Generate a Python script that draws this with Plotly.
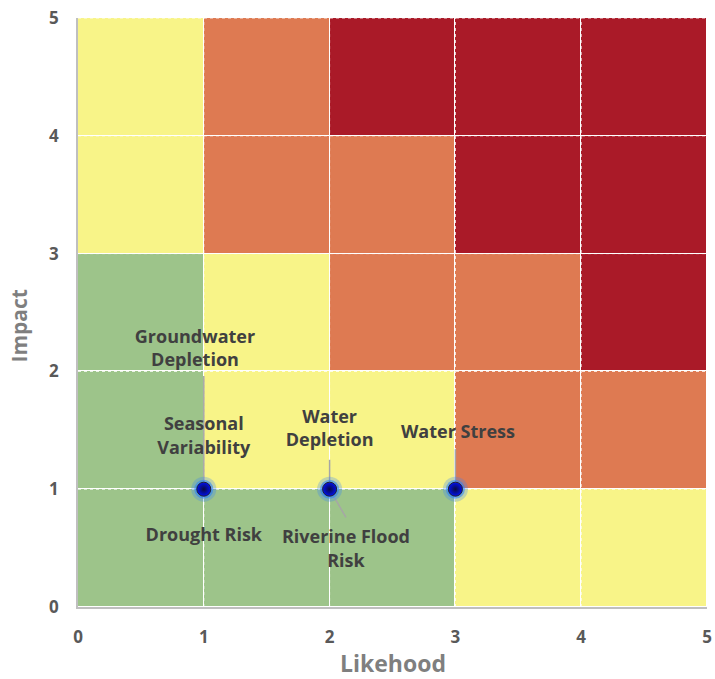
import plotly.graph_objects as go

# Risk matrix levels (rows = Impact 0-1 .. 4-5, cols = Likehood 0-1 .. 4-5)
# 0 = green, 1 = yellow, 2 = orange, 3 = red
risk_levels = [
    [0, 0, 0, 1, 1],
    [0, 1, 1, 2, 2],
    [0, 1, 2, 2, 3],
    [1, 2, 2, 3, 3],
    [1, 2, 3, 3, 3],
]
cell_centers = [0.5, 1.5, 2.5, 3.5, 4.5]
level_colors = ["#9DC48A", "#F8F488", "#DE7A52", "#AA1A28"]

# Risk points
point_likehood = [1, 2, 3]
point_impact = [1, 1, 1]

# Labels: text, label position, leader line end
labels = ["Groundwater<br>Depletion", "Seasonal<br>Variability", "Water<br>Depletion",
          "Water Stress", "Drought Risk", "Riverine Flood<br>Risk"]
label_x = [0.93, 1.0, 2.0, 3.02, 1.0, 2.13]
label_y = [2.18, 1.44, 1.5, 1.47, 0.6, 0.48]

leader_from_x = [1, 2, 2, 3]
leader_from_y = [1, 1, 1, 1]
leader_to_x = [1, 2, 2.13, 3]
leader_to_y = [1.96, 1.25, 0.76, 1.34]

tick_vals = [0, 1, 2, 3, 4, 5]

FONT = "Open Sans"

n = len(level_colors)
colorscale = []
for i, c in enumerate(level_colors):
    colorscale.append([i / n, c])
    colorscale.append([(i + 1) / n, c])

fig = go.Figure()
fig.add_trace(go.Heatmap(
    x=cell_centers, y=cell_centers, z=risk_levels,
    zmin=-0.5, zmax=n - 0.5, colorscale=colorscale, showscale=False,
    xgap=1, ygap=1, hoverinfo="skip",
))

# gridlines (dotted white), drawn as traces so they stay below markers
for v in tick_vals[1:]:
    fig.add_trace(go.Scatter(x=[v, v], y=[0, 5], mode="lines",
                             line=dict(color="rgba(255,255,255,0.85)", width=1, dash="dot"),
                             hoverinfo="skip", showlegend=False))
    fig.add_trace(go.Scatter(x=[0, 5], y=[v, v], mode="lines",
                             line=dict(color="rgba(255,255,255,0.85)", width=1, dash="dot"),
                             hoverinfo="skip", showlegend=False))

# leader lines
for x0, y0, x1, y1 in zip(leader_from_x, leader_from_y, leader_to_x, leader_to_y):
    fig.add_trace(go.Scatter(x=[x0, x1], y=[y0, y1], mode="lines",
                             line=dict(color="#A6A6A6", width=1.5),
                             hoverinfo="skip", showlegend=False))

# glow
fig.add_trace(go.Scatter(x=point_likehood, y=point_impact, mode="markers",
                         marker=dict(size=25, color="rgba(50,130,255,0.28)", line=dict(width=0)),
                         hoverinfo="skip", showlegend=False))
fig.add_trace(go.Scatter(x=point_likehood, y=point_impact, mode="markers",
                         marker=dict(size=19, color="rgba(40,130,255,0.55)", line=dict(width=0)),
                         hoverinfo="skip", showlegend=False))
fig.add_trace(go.Scatter(x=point_likehood, y=point_impact, mode="markers",
                         marker=dict(size=14, color="#0010F0",
                                     gradient=dict(type="radial", color="#0A0A40"),
                                     line=dict(color="#202030", width=1)),
                         showlegend=False))

# labels
fig.add_trace(go.Scatter(x=label_x, y=label_y, mode="text", text=labels,
                         textfont=dict(family=FONT, size=18, color="#404040", weight="bold"),
                         hoverinfo="skip", showlegend=False))

axis_common = dict(
    range=[0, 5], tickvals=tick_vals, showgrid=False, zeroline=False,
    showline=True, linecolor="#BFBFBF", linewidth=1.5, ticks="",
    tickfont=dict(family=FONT, size=17, color="#595959", weight="bold"),
    fixedrange=True, automargin=False, ticklabeloverflow="allow",
)
fig.update_xaxes(**axis_common, ticklabelstandoff=14)
fig.update_yaxes(**axis_common, ticklabelstandoff=14)

fig.add_annotation(text="Likehood", xref="paper", yref="paper", x=0.5, y=0,
                   xanchor="center", yanchor="middle", yshift=-56,
                   showarrow=False, font=dict(family=FONT, size=23, color="#7F7F7F", weight="bold"))
fig.add_annotation(text="Impact", xref="paper", yref="paper", x=0, y=0.5,
                   xanchor="center", yanchor="middle", xshift=-60, yshift=-14,
                   textangle=-90, showarrow=False,
                   font=dict(family=FONT, size=21, color="#7F7F7F", weight="bold"))

fig.update_layout(
    width=715, height=679,
    margin=dict(l=78, r=8, t=18, b=72),
    plot_bgcolor="white", paper_bgcolor="white",
    showlegend=False,
)

fig.write_html("out.html", config={"displayModeBar": False},
               post_script="document.body.style.margin='0';")
